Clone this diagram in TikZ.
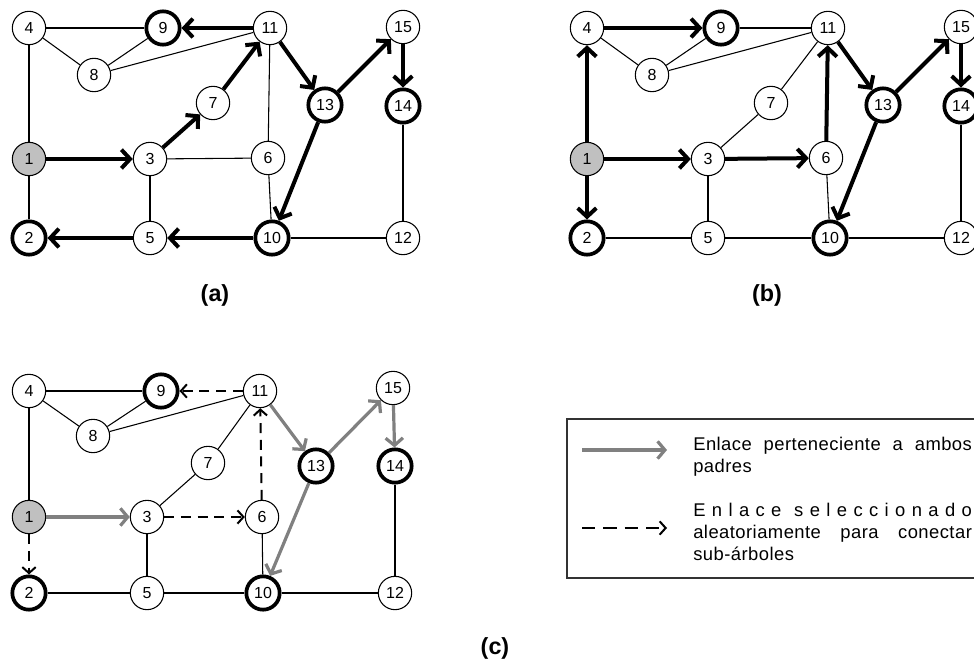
\documentclass[tikz,border=0pt]{standalone}
\usepackage{fontspec}
\setmainfont{Liberation Sans}
\newfontfamily\legfont[LetterSpace=2.5]{Liberation Sans}
\usetikzlibrary{arrows.meta}
\definecolor{edgegrey}{RGB}{128,128,128}
\definecolor{rootfill}{RGB}{192,192,192}
\tikzset{
  nd/.style={circle,draw,line width=0.8pt,minimum size=25pt,inner sep=0pt,fill=white,font=\fontsize{12}{12}\selectfont},
  bnd/.style={nd,line width=2.8pt},
  gnd/.style={nd,fill=rootfill},
  thin edge/.style={line width=0.8pt},
  thick arrow/.style={line width=3pt,-{Straight Barb[length=6.5pt,width=14pt]}},
  grey arrow/.style={line width=2.4pt,edgegrey,-{Straight Barb[length=5.5pt,width=13pt]}},
  dash arrow/.style={line width=1.5pt,dash pattern=on 7.5pt off 5pt,-{Straight Barb[length=4.5pt,width=10pt]}},
  caption/.style={font=\bfseries\fontsize{17.5}{17.5}\selectfont},
  legtext/.style={anchor=base west,inner sep=0pt,font=\legfont\fontsize{13.8}{16}\selectfont}
}
\begin{document}
\begin{tikzpicture}[x=0.75pt,y=-0.75pt]
\useasboundingbox (0,0) rectangle (974,667);
% ---------- (a) and (b) node placement ----------
\foreach \n/\x/\y/\s in {1/29/159/gnd,2/29/238/bnd,3/150/159/nd,4/29/28/nd,5/150/238/nd,
  6/268/158/nd,7/213/103/nd,8/94/75/nd,9/163/28/bnd,10/272/238/bnd,11/270/28/nd,
  12/403/238/nd,13/325/105/bnd,14/403/106/bnd,15/403/27/nd}{
  \node[\s] (a\n) at (\x,\y) {\n};
  \node[\s] (b\n) at (\x+558,\y) {\n};
}
% ---------- (c) node placement ----------
\foreach \n/\x/\y/\s in {1/29/517/gnd,2/29/593/bnd,3/147/517/nd,4/29/391/nd,5/147/593/nd,
  6/262/517/nd,7/208/463/nd,8/93/436/nd,9/161/391/bnd,10/263/593/bnd,11/260/391/nd,
  12/395/593/nd,13/316/466/bnd,14/395/466/bnd,15/393/388/nd}{
  \node[\s] (c\n) at (\x,\y) {\n};
}
% ---------- (a) edges ----------
\foreach \u/\v in {4/9,4/8,8/9,8/11,4/1,1/2,3/6,3/5,11/6,6/10,10/12,12/14}
  \draw[thin edge] (a\u) -- (a\v);
\foreach \u/\v in {1/3,3/7,7/11,11/9,11/13,13/15,15/14,13/10,10/5,5/2}
  \draw[thick arrow] (a\u) -- (a\v);
% ---------- (b) edges ----------
\foreach \u/\v in {4/8,8/9,8/11,9/11,3/7,7/11,3/5,6/10,2/5,5/10,10/12,12/14}
  \draw[thin edge] (b\u) -- (b\v);
\foreach \u/\v in {1/4,1/2,1/3,4/9,3/6,6/11,11/13,13/15,15/14,13/10}
  \draw[thick arrow] (b\u) -- (b\v);
% ---------- (c) edges ----------
\foreach \u/\v in {4/9,4/8,8/9,8/11,4/1,3/7,7/11,3/5,6/10,2/5,5/10,10/12,12/14}
  \draw[thin edge] (c\u) -- (c\v);
\foreach \u/\v in {1/3,11/13,13/15,15/14,13/10}
  \draw[grey arrow] (c\u) -- (c\v);
\foreach \u/\v in {11/9,1/2,3/6,6/11}
  \draw[dash arrow] (c\u) -- (c\v);
% ---------- captions ----------
\node[caption] (capa) at (215,295) {(a)};
\node[caption] (capb) at (767,295) {(b)};
\node[caption] (capc) at (495,648) {(c)};
% ---------- legend ----------
\draw[line width=0.8pt,black!80] (567,419) rectangle (980,578);
\coordinate (l1s) at (582,450);
\coordinate (l1e) at (667,450);
\coordinate (l2s) at (582,528);
\coordinate (l2e) at (667,528);
\draw[grey arrow] (l1s) -- (l1e);
\draw[line width=1.5pt,dash pattern=on 10pt off 6pt,-{Straight Barb[length=4.5pt,width=10pt]}] (l2s) -- (l2e);
\node[legtext] (t1) at (693,450) {\hbox to 209pt{Enlace\hfill perteneciente\hfill a\hfill ambos}};
\node[legtext] (t2) at (693,472) {padres};
\node[legtext] (t3) at (693,516) {\hbox to 209pt{E\hfill n\hfill l\hfill a\hfill c\hfill e\hfill\hfill s\hfill e\hfill l\hfill e\hfill c\hfill c\hfill i\hfill o\hfill n\hfill a\hfill d\hfill o}};
\node[legtext] (t4) at (693,538) {\hbox to 209pt{aleatoriamente\hfill para\hfill conectar}};
\node[legtext] (t5) at (693,560) {sub-árboles};
\end{tikzpicture}
\end{document}
